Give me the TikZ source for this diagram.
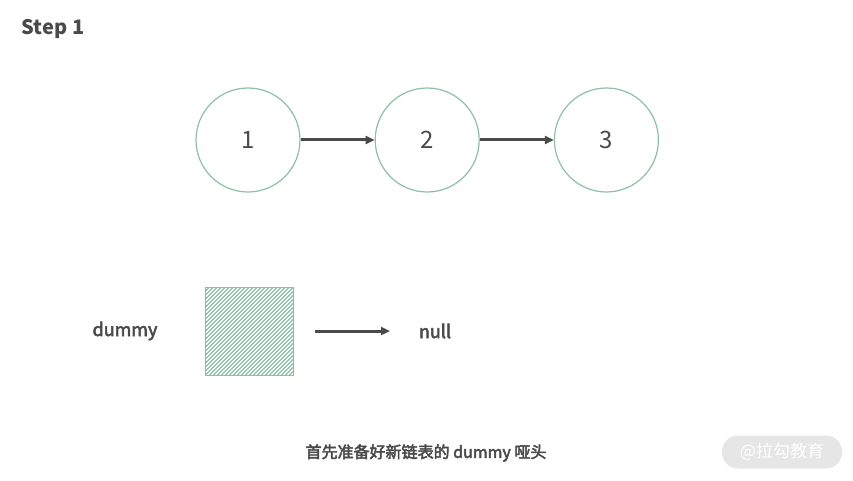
\documentclass[tikz,border=0pt]{standalone}
\usepackage{fontspec}
\setmainfont{Noto Sans CJK SC}
\newfontfamily\medfont{Noto Sans CJK SC}[FakeBold=3]
\usepackage{tikz}
\usetikzlibrary{positioning,arrows.meta}

\definecolor{nodegreen}{HTML}{8DBFA6}
\definecolor{hatchgreen}{HTML}{8DBFA6}
\definecolor{textgray}{HTML}{4A4A4A}
\definecolor{markgray}{HTML}{E6E6E6}

\begin{document}
\begin{tikzpicture}[x=1pt, y=1pt, font=\color{textgray},
    listnode/.style = {draw=nodegreen, line width=1.2pt, circle, minimum size=104pt, inner sep=0pt, font=\fontsize{24}{28}\selectfont\color{textgray}},
    link/.style = {-{Triangle[length=9pt,width=8pt]}, draw=textgray, fill=textgray, line width=3pt},
    label/.style = {font=\fontsize{18}{22}\selectfont\medfont\color{textgray}}]
  \useasboundingbox (0,0) rectangle (853,480);
  \node[font=\fontsize{20}{24}\selectfont\bfseries\color{textgray}] (title) at (53,451) {Step 1};
  % linked list
  \node[listnode] (n1) at (248,340) {1};
  \node[listnode, right=74pt of n1] (n2) {2};
  \node[listnode, right=74pt of n2] (n3) {3};
  \draw[link] (n1) -- (n2);
  \draw[link] (n2) -- (n3);
  % dummy head
  \node[draw=nodegreen, line width=1pt, minimum size=88pt, inner sep=0pt] (dummy) at (249,148.5) {};
  \begin{scope}
    \clip (205,104.5) rectangle (293,192.5);
    \foreach \i in {0,4,...,176}
      \draw[hatchgreen, line width=1.3pt] (117+\i,104.5) -- ++(88,88);
  \end{scope}
  \node[label] (dname) at (125,149) {dummy};
  \node[label] (null) at (435,149) {null};
  \coordinate (from) at (315,149);
  \coordinate (to) at (390,149);
  \draw[link] (from) -- (to);
  % caption
  \node[font=\fontsize{16}{19}\selectfont\medfont\color{textgray}] (caption) at (426,27) {首先准备好新链表的 dummy 哑头};
  \node[fill=markgray, rounded corners=16pt, minimum width=120pt, minimum height=33pt, text=white, font=\fontsize{17}{20}\selectfont] (mark) at (782,28) {@拉勾教育};
\end{tikzpicture}
\end{document}
